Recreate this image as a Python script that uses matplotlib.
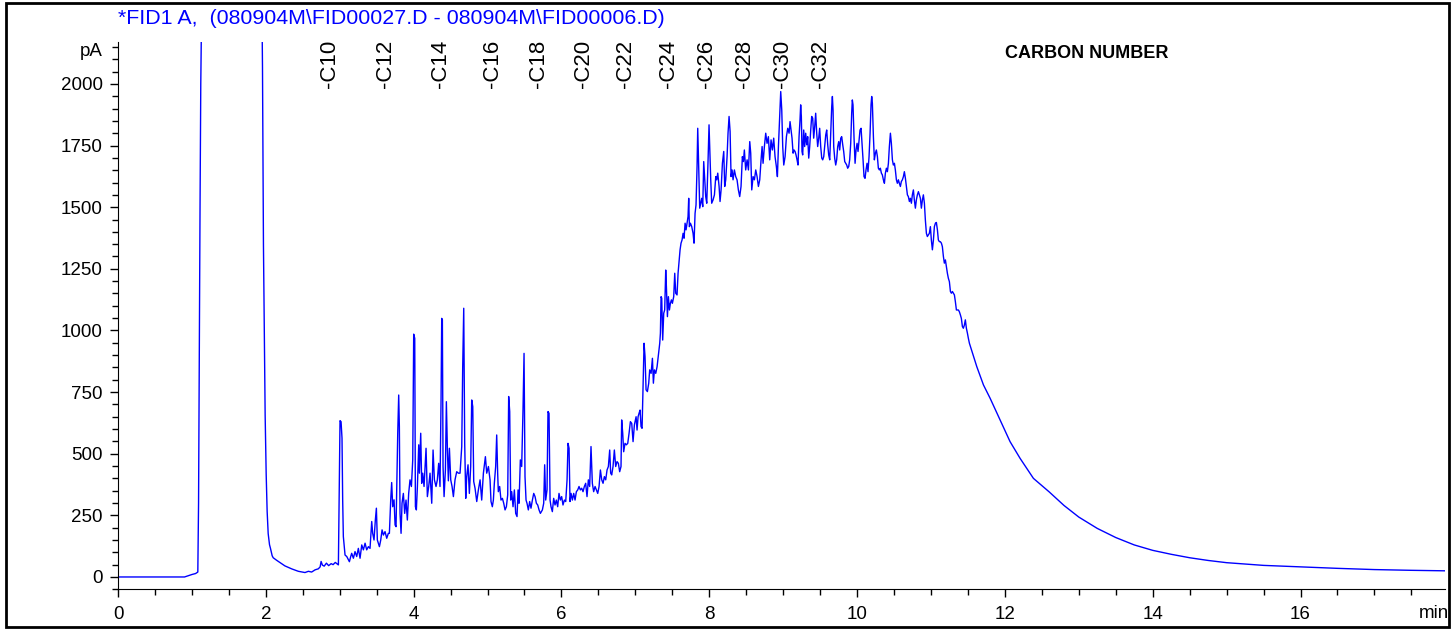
import numpy as np
import matplotlib.pyplot as plt
from matplotlib import font_manager
from matplotlib.patches import Rectangle
from matplotlib.ticker import MultipleLocator


# solvent peak and baseline up to C10 (min, pA)
t_solvent = [0.00, 0.50, 0.90, 0.95, 1.00, 1.05, 1.08, 1.09, 1.10, 1.11, 1.12, 1.135, 1.50,
             1.945, 1.955, 1.968, 1.982, 1.991, 2.005, 2.018, 2.032, 2.05, 2.063, 2.086, 2.10,
             2.145, 2.19, 2.258, 2.349, 2.44, 2.53, 2.576, 2.62, 2.667, 2.71, 2.735, 2.748,
             2.766, 2.79, 2.82, 2.85, 2.884, 2.91, 2.94, 2.982]
pa_solvent = [0, 0, 0, 5, 10, 14, 20, 300, 900, 1500, 2000, 2400, 2600,
              2400, 2068, 1347, 941, 656, 416, 266, 176, 131, 116, 86, 78,
              68, 59, 45, 33, 23, 18, 23, 20, 29, 33, 41, 63,
              48, 44, 56, 46, 54, 50, 59, 49]

# C10 .. C18 region
t_light = [3.004, 3.018, 3.031, 3.040, 3.049, 3.072, 3.095, 3.131, 3.149, 3.162, 3.185, 3.207,
           3.230, 3.252, 3.275, 3.298, 3.320, 3.343, 3.365, 3.388, 3.410, 3.433, 3.446, 3.464,
           3.482, 3.496, 3.509, 3.537, 3.555, 3.573, 3.591, 3.613, 3.636, 3.658, 3.672, 3.690,
           3.703, 3.717, 3.735, 3.749, 3.762, 3.785, 3.798, 3.807, 3.816, 3.830, 3.843, 3.861,
           3.879, 3.897, 3.915, 3.933, 3.951, 3.970, 3.988, 4.001, 4.015, 4.024, 4.037, 4.051,
           4.069, 4.078, 4.096, 4.109, 4.123, 4.141, 4.168, 4.186, 4.204, 4.222, 4.245, 4.263,
           4.281, 4.303, 4.321, 4.339, 4.357, 4.371, 4.380, 4.389, 4.398, 4.412, 4.430, 4.443,
           4.457, 4.470, 4.484, 4.502, 4.520, 4.538, 4.560, 4.583, 4.606, 4.628, 4.651, 4.664,
           4.678, 4.691, 4.705, 4.718, 4.736, 4.754, 4.772, 4.786, 4.800, 4.813, 4.831, 4.854,
           4.876, 4.899, 4.921, 4.944, 4.971, 4.989, 5.012, 5.034]
pa_light = [634, 630, 563, 312, 164, 89, 83, 62, 83, 96, 76, 103,
            83, 116, 76, 130, 110, 137, 110, 123, 116, 225, 177, 150,
            231, 279, 150, 123, 150, 191, 170, 184, 157, 177, 177, 313,
            383, 285, 313, 211, 204, 583, 738, 610, 258, 177, 299, 339,
            258, 312, 231, 339, 394, 367, 475, 985, 968, 285, 272, 367,
            536, 421, 583, 380, 421, 367, 522, 326, 367, 421, 299, 515,
            394, 367, 394, 461, 367, 718, 1049, 1043, 448, 326, 434, 711,
            515, 390, 522, 394, 367, 326, 394, 427, 421, 421, 529, 853,
            1090, 542, 319, 407, 455, 339, 448, 718, 691, 387, 360, 306,
            353, 394, 312, 421, 488, 421, 448, 394]

# C18 .. C22 region
t_mid = [5.047, 5.065, 5.079, 5.092, 5.110, 5.124, 5.137, 5.146, 5.164, 5.182, 5.201, 5.219,
         5.237, 5.255, 5.273, 5.286, 5.300, 5.313, 5.327, 5.345, 5.363, 5.381, 5.399, 5.413,
         5.426, 5.444, 5.462, 5.480, 5.494, 5.507, 5.521, 5.534, 5.552, 5.570, 5.588, 5.607,
         5.625, 5.643, 5.661, 5.679, 5.697, 5.715, 5.742, 5.760, 5.773, 5.787, 5.805, 5.818,
         5.832, 5.846, 5.859, 5.877, 5.895, 5.913, 5.931, 5.949, 5.967, 5.985, 6.003, 6.021,
         6.040, 6.058, 6.076, 6.089, 6.103, 6.116, 6.130, 6.148, 6.166, 6.184, 6.202, 6.220,
         6.238, 6.256, 6.274, 6.292, 6.310, 6.328, 6.346, 6.364, 6.382, 6.400, 6.418, 6.436,
         6.455, 6.473, 6.491, 6.509, 6.527, 6.545, 6.563, 6.581, 6.599, 6.617, 6.635, 6.653,
         6.666, 6.680, 6.698, 6.716, 6.734, 6.752, 6.770, 6.788, 6.806, 6.815, 6.829, 6.842,
         6.860, 6.878, 6.897, 6.915, 6.933, 6.951, 6.969, 6.987]
pa_mid = [306, 285, 312, 380, 448, 576, 421, 346, 367, 312, 319, 299,
          272, 285, 333, 732, 671, 312, 346, 285, 353, 258, 245, 353,
          299, 475, 448, 678, 907, 407, 312, 299, 272, 306, 279, 312,
          339, 326, 299, 292, 272, 258, 272, 299, 455, 312, 353, 671,
          664, 312, 285, 265, 319, 292, 312, 285, 339, 312, 326, 292,
          312, 306, 394, 542, 522, 306, 339, 312, 339, 312, 346, 353,
          367, 353, 360, 346, 367, 380, 326, 394, 367, 529, 380, 346,
          367, 353, 339, 367, 434, 394, 380, 407, 394, 434, 448, 515,
          421, 414, 448, 515, 448, 468, 461, 427, 448, 637, 583, 508,
          542, 536, 542, 583, 630, 623, 549, 617]

# hump rise, C22 .. C30
t_rise = [7.010, 7.023, 7.037, 7.050, 7.064, 7.077, 7.091, 7.104, 7.118, 7.131, 7.145, 7.163,
          7.181, 7.194, 7.213, 7.231, 7.244, 7.258, 7.276, 7.294, 7.312, 7.330, 7.339, 7.348,
          7.357, 7.370, 7.384, 7.397, 7.411, 7.420, 7.434, 7.447, 7.461, 7.474, 7.488, 7.501,
          7.519, 7.533, 7.546, 7.564, 7.578, 7.591, 7.605, 7.618, 7.632, 7.646, 7.659, 7.673,
          7.686, 7.700, 7.713, 7.722, 7.731, 7.745, 7.763, 7.781, 7.794, 7.808, 7.821, 7.835,
          7.844, 7.858, 7.871, 7.885, 7.898, 7.912, 7.925, 7.939, 7.952, 7.966, 7.984, 7.997,
          8.006, 8.020, 8.033, 8.051, 8.070, 8.088, 8.101, 8.115, 8.133, 8.146, 8.160, 8.178,
          8.196, 8.209, 8.223, 8.241, 8.254, 8.268, 8.282, 8.295, 8.309, 8.322, 8.340, 8.358,
          8.376, 8.394, 8.412, 8.430, 8.448, 8.462, 8.475, 8.493, 8.512, 8.530, 8.548, 8.561,
          8.575, 8.593, 8.611, 8.629, 8.647, 8.665, 8.683, 8.701, 8.715, 8.728, 8.746, 8.764,
          8.782, 8.800, 8.818, 8.836, 8.854, 8.872, 8.890, 8.908, 8.922, 8.936, 8.954, 8.967,
          8.981, 8.994, 9.008, 9.026, 9.044, 9.062, 9.080]
pa_rise = [650, 596, 650, 664, 677, 610, 603, 772, 948, 894, 759, 752,
           786, 840, 826, 887, 786, 840, 826, 853, 901, 948, 989, 1137,
           1131, 961, 1070, 1083, 1245, 1178, 1056, 1137, 1083, 1110, 1124, 1110,
           1137, 1232, 1151, 1144, 1232, 1279, 1327, 1354, 1367, 1394, 1374, 1435,
           1408, 1435, 1462, 1536, 1421, 1435, 1421, 1394, 1354, 1475, 1509, 1665,
           1820, 1651, 1496, 1516, 1536, 1502, 1685, 1611, 1543, 1516, 1692, 1834,
           1746, 1611, 1516, 1529, 1550, 1624, 1611, 1638, 1584, 1523, 1570, 1678,
           1726, 1584, 1611, 1705, 1800, 1868, 1807, 1624, 1651, 1611, 1651, 1624,
           1611, 1570, 1543, 1584, 1705, 1685, 1732, 1651, 1692, 1651, 1766, 1719,
           1570, 1624, 1611, 1651, 1624, 1584, 1611, 1692, 1746, 1678, 1746, 1800,
           1759, 1786, 1692, 1773, 1732, 1780, 1705, 1665, 1624, 1746, 1881, 1969,
           1894, 1746, 1671, 1705, 1786, 1820, 1800]

# hump top and fall
t_top = [9.093, 9.107, 9.120, 9.134, 9.147, 9.161, 9.174, 9.188, 9.201, 9.215, 9.228, 9.237,
         9.246, 9.255, 9.264, 9.278, 9.291, 9.305, 9.319, 9.332, 9.346, 9.359, 9.373, 9.386,
         9.400, 9.413, 9.427, 9.440, 9.454, 9.467, 9.481, 9.494, 9.508, 9.522, 9.535, 9.549,
         9.562, 9.576, 9.589, 9.603, 9.616, 9.630, 9.643, 9.657, 9.666, 9.675, 9.684, 9.697,
         9.711, 9.724, 9.738, 9.752, 9.765, 9.779, 9.792, 9.806, 9.819, 9.833, 9.846, 9.860,
         9.873, 9.887, 9.900, 9.914, 9.927, 9.936, 9.945, 9.959, 9.973, 9.986, 10.000, 10.013,
         10.027, 10.040, 10.054, 10.067, 10.081, 10.094, 10.108, 10.121, 10.135, 10.148, 10.162, 10.176,
         10.189, 10.198, 10.207, 10.221, 10.234, 10.248, 10.261, 10.275, 10.288, 10.302, 10.315, 10.329,
         10.342, 10.356, 10.370, 10.383, 10.397, 10.410, 10.424, 10.437, 10.451, 10.464, 10.478, 10.491,
         10.505, 10.518, 10.532, 10.545, 10.559, 10.572, 10.586, 10.599, 10.613, 10.627, 10.640, 10.654,
         10.667, 10.681, 10.694, 10.708, 10.721, 10.735, 10.748, 10.762, 10.775, 10.789, 10.802, 10.816,
         10.830, 10.843, 10.857, 10.870, 10.884, 10.897, 10.911, 10.924, 10.938, 10.951, 10.965, 10.978,
         10.992, 11.005, 11.019, 11.033, 11.046, 11.060, 11.073, 11.087, 11.100, 11.114, 11.127, 11.141,
         11.154, 11.168, 11.181, 11.195, 11.208, 11.222, 11.235, 11.249, 11.263, 11.276, 11.290, 11.303,
         11.317, 11.330, 11.344, 11.357, 11.371, 11.384, 11.398, 11.411, 11.425, 11.438, 11.452, 11.465,
         11.479, 11.493, 11.506, 11.520]
pa_top = [1847, 1813, 1780, 1719, 1732, 1726, 1712, 1692, 1671, 1786, 1854, 1915,
          1868, 1726, 1712, 1813, 1746, 1800, 1753, 1786, 1699, 1746, 1813, 1868,
          1861, 1780, 1827, 1881, 1800, 1746, 1780, 1820, 1746, 1699, 1692, 1705,
          1746, 1793, 1813, 1753, 1712, 1692, 1800, 1908, 1949, 1894, 1746, 1699,
          1671, 1692, 1746, 1766, 1732, 1780, 1786, 1753, 1726, 1685, 1678, 1671,
          1658, 1665, 1692, 1759, 1881, 1935, 1915, 1780, 1678, 1732, 1759, 1726,
          1773, 1813, 1820, 1759, 1692, 1624, 1617, 1651, 1678, 1644, 1705, 1800,
          1915, 1949, 1922, 1786, 1692, 1719, 1732, 1705, 1658, 1651, 1658, 1638,
          1631, 1611, 1597, 1638, 1658, 1644, 1678, 1746, 1800, 1759, 1692, 1671,
          1678, 1651, 1611, 1597, 1611, 1597, 1584, 1604, 1611, 1624, 1644, 1617,
          1584, 1550, 1543, 1523, 1536, 1516, 1550, 1570, 1529, 1496, 1529, 1550,
          1563, 1550, 1536, 1496, 1529, 1550, 1516, 1448, 1394, 1381, 1388, 1394,
          1421, 1367, 1327, 1367, 1421, 1435, 1438, 1408, 1367, 1360, 1360, 1354,
          1340, 1300, 1273, 1286, 1259, 1232, 1212, 1198, 1158, 1151, 1158, 1151,
          1144, 1117, 1083, 1083, 1083, 1076, 1063, 1049, 1016, 1009, 1022, 1043,
          1009, 989, 968, 948]

# column bleed / tail
t_tail = [11.62, 11.71, 11.80, 11.935, 12.07, 12.206, 12.386, 12.6, 12.8, 13.0, 13.25, 13.5,
          13.75, 14.0, 14.25, 14.5, 14.75, 15.0, 15.5, 16.0, 16.5, 17.0, 17.5, 17.95]
pa_tail = [853, 779, 725, 637, 549, 481, 400, 345, 290, 243, 197, 160,
           130, 108, 92, 78, 67, 58, 47, 41, 35, 30, 27, 25]

carbon_names = ['-C10', '-C12', '-C14', '-C16', '-C18', '-C20',
                '-C22', '-C24', '-C26', '-C28', '-C30', '-C32']
carbon_times = [2.855, 3.626, 4.357, 5.061, 5.683, 6.30,
                6.861, 7.443, 7.957, 8.471, 8.985, 9.499]

title = r'*FID1 A,  (080904M\FID00027.D - 080904M\FID00006.D)'

t = np.concatenate([t_solvent, t_light, t_mid, t_rise, t_top, t_tail])
pa = np.concatenate([pa_solvent, pa_light, pa_mid, pa_rise, pa_top, pa_tail])

plt.rcParams['font.family'] = ['Liberation Sans', 'DejaVu Sans']

# tick labels in the original are a narrow Arial
installed = {f.name for f in font_manager.fontManager.ttflist}
if 'Liberation Sans Narrow' in installed:
    tick_font = {'family': 'Liberation Sans Narrow', 'size': 15}
else:
    tick_font = {'family': 'Liberation Sans', 'size': 13.5}

W, H = 1455, 629
fig = plt.figure(figsize=(W / 100, H / 100), dpi=100)
ax = fig.add_axes([118 / W, (H - 589.3) / H, 1327 / W, (589.3 - 42) / H])

ax.plot(t, pa, color='#0000ff', lw=1.0)

ax.set_xlim(0, 17.955)
ax.set_ylim(-50, 2170)
for side in ['top', 'right']:
    ax.spines[side].set_visible(False)
ax.xaxis.set_major_locator(MultipleLocator(2))
ax.xaxis.set_minor_locator(MultipleLocator(0.5))
ax.yaxis.set_major_locator(MultipleLocator(250))
ax.yaxis.set_minor_locator(MultipleLocator(50))
ax.tick_params(which='major', direction='out', length=6, width=1)
ax.tick_params(which='minor', direction='out', length=4, width=1)
ax.tick_params(axis='y', pad=5)
ax.tick_params(axis='x', pad=6)
for lab in ax.get_xticklabels() + ax.get_yticklabels():
    lab.set_fontfamily(tick_font['family'])
    lab.set_fontsize(tick_font['size'])

for name, tc in zip(carbon_names, carbon_times):
    ax.text(tc, 1984, name, rotation=90, ha='center', va='bottom', fontsize=16)

fig.text(1087 / W, (H - 54) / H, 'CARBON NUMBER', ha='center', va='center',
         fontsize=13, fontweight='bold')
fig.text(118 / W, (H - 19) / H, title, color='#0000ff', ha='left', va='center', fontsize=15.4)
fig.text(103 / W, (H - 52) / H, 'pA', ha='right', va='center',
         fontfamily=tick_font['family'], fontsize=tick_font['size'])
fig.text(1419 / W, (H - 613) / H, 'min', ha='left', va='center',
         fontfamily=tick_font['family'], fontsize=tick_font['size'])

fig.add_artist(Rectangle((6 / W, 2 / H), 1443 / W, 624 / H, transform=fig.transFigure,
                         fill=False, edgecolor='black', lw=2))

fig.savefig('out.png', dpi=100)
